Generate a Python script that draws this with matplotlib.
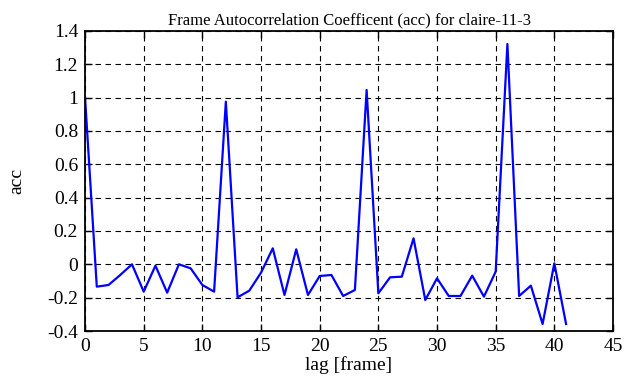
import matplotlib
matplotlib.use("Agg")
import matplotlib.pyplot as plt
from matplotlib.ticker import FuncFormatter

# acc values, lags 0..41
lag = list(range(42))
acc = [1.0, -0.134, -0.124, -0.064, 0.0, -0.164, -0.008, -0.17, 0.0, -0.024,
       -0.124, -0.164, 0.976, -0.198, -0.158, -0.05, 0.096, -0.184, 0.09, -0.184,
       -0.07, -0.064, -0.19, -0.154, 1.046, -0.174, -0.078, -0.074, 0.156, -0.214,
       -0.084, -0.19, -0.19, -0.068, -0.194, -0.044, 1.322, -0.19, -0.128, -0.358,
       0.006, -0.358]

xticks = list(range(0, 46, 5))
yticks = [-0.4, -0.2, 0, 0.2, 0.4, 0.6, 0.8, 1.0, 1.2, 1.4]

plt.rcParams["font.family"] = ["Liberation Serif", "DejaVu Serif"]
plt.rcParams["font.size"] = 14

fig = plt.figure(figsize=(6.3, 3.87), dpi=100)
ax = fig.add_axes([0.135, 0.1447, 0.838, 0.7753])

ax.plot(lag, acc, color="#0000ff", linewidth=1.6)

ax.set_xlim(0, 45)
ax.set_ylim(-0.4, 1.4)
ax.set_xticks(xticks)
ax.set_yticks(yticks)
ax.yaxis.set_major_formatter(FuncFormatter(lambda v, p: "%g" % round(v, 2)))
ax.grid(True, color="black", linestyle=(0, (5, 4)), linewidth=0.8)
ax.tick_params(direction="in", top=True, right=True, length=5, width=1, pad=5,
               labelsize=14)
for s in ax.spines.values():
    s.set_linewidth(1.3)

ax.set_xlabel("lag [frame]", labelpad=1)
ax.set_ylabel("acc", labelpad=16)
ax.set_title("Frame Autocorrelation Coefficent (acc) for claire-11-3", fontsize=12, pad=5)

fig.savefig("out.png", dpi=100)
